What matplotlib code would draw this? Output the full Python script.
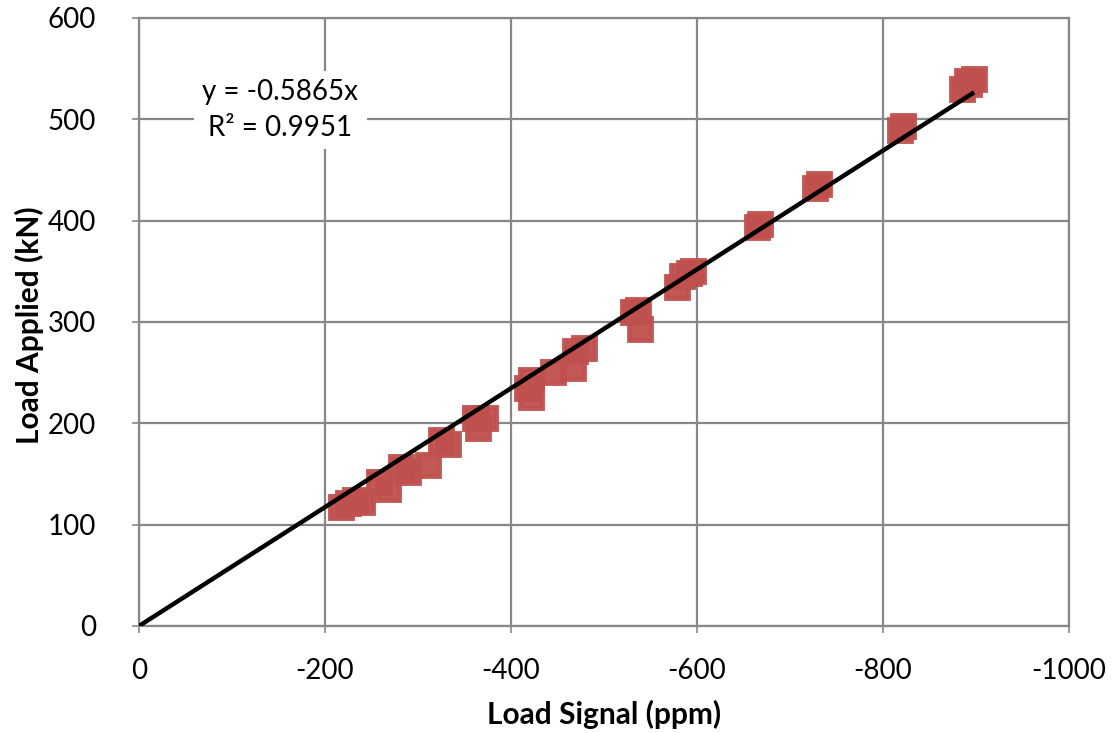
import matplotlib
matplotlib.use("Agg")
import matplotlib.pyplot as plt
import numpy as np

plt.rcParams['font.family'] = ['Lato', 'DejaVu Sans']

# Data
load_signal = [-217, -225, -232, -240,
               -258, -268,
               -282, -289,
               -311,
               -325, -332,
               -361, -365, -372,
               -417, -422, -422,
               -445,
               -467, -469, -478,
               -531, -537, -539,
               -578, -584, -591, -596,
               -664, -668,
               -727, -731,
               -818, -822,
               -885, -890, -892, -898]
load_applied = [117, 121, 124, 122,
                142, 135,
                157, 152,
                159,
                184, 180,
                205, 195, 205,
                235, 243, 226,
                251,
                255, 271, 274,
                310, 312, 293,
                335, 345, 348, 350,
                394, 397,
                432, 436,
                489, 493,
                530, 538, 535, 540]
slope = -0.5865
r2 = 0.9951
xticks = [0, -200, -400, -600, -800, -1000]
yticks = [0, 100, 200, 300, 400, 500, 600]

fig = plt.figure(figsize=(11.13, 7.33), dpi=100)
ax = fig.add_axes([139/1113, 1 - 626/733, (1069-139)/1113, (626-18)/733])

red = '#C0504D'
ax.plot(load_signal, load_applied, linestyle='none', marker='s', markersize=16,
        markerfacecolor=red, markeredgecolor=red, markeredgewidth=3.5,
        alpha=0.95, zorder=3)

xfit = np.array([0, min(load_signal)])
ax.plot(xfit, slope * xfit, color='black', linewidth=3.2, zorder=4,
        solid_capstyle='butt')

ax.set_xlim(0, -1000)
ax.set_ylim(0, 600)
ax.set_xticks(xticks)
ax.set_yticks(yticks)
ax.set_xticklabels([str(t) for t in xticks])
ax.set_yticklabels([str(t) for t in yticks])
ax.grid(True, color='#878787', linewidth=1.6, zorder=0)
ax.set_axisbelow(True)
for s in ax.spines.values():
    s.set_color('#878787')
    s.set_linewidth(1.6)
ax.tick_params(axis='both', colors='#878787', length=5, width=1.2,
               labelsize=20, labelcolor='black')
ax.tick_params(axis='x', pad=18)
ax.tick_params(axis='y', pad=26)

ax.set_xlabel('Load Signal (ppm)', fontsize=21.5, fontweight='bold')
ax.set_ylabel('Load Applied (kN)', fontsize=21.5, fontweight='bold')
ax.xaxis.set_label_coords((604-139)/930, (626-700)/608)
ax.yaxis.set_label_coords((44-139)/930, (626-325)/608)

ax.text(-152, 509, f'y = {slope}x\nR² = {r2}', fontsize=20, ha='center', va='center',
        linespacing=1.45, zorder=5,
        bbox=dict(facecolor='white', edgecolor='none', pad=6))

fig.savefig('out.png', dpi=100)
